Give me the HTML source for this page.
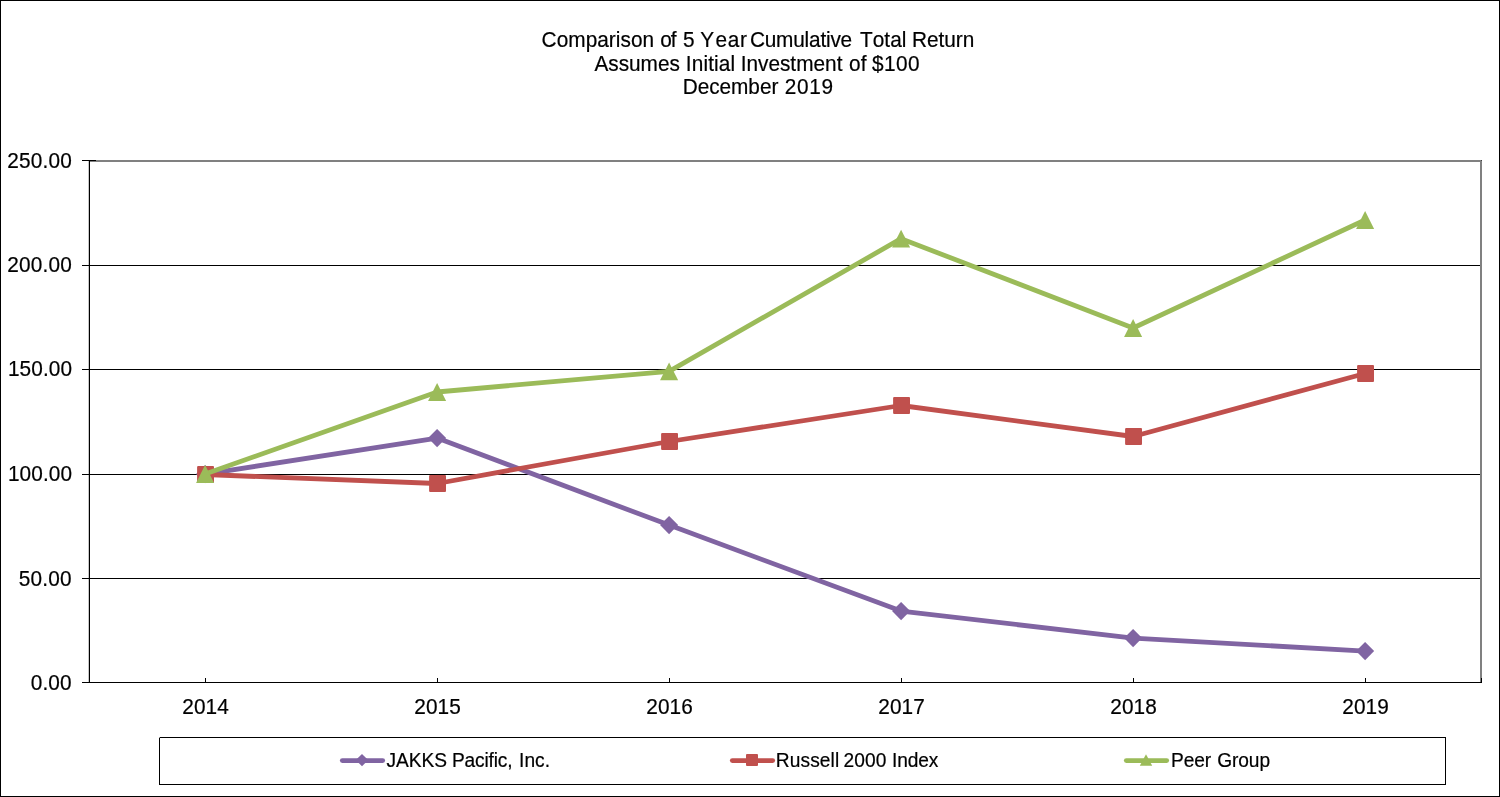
<!DOCTYPE html>
<html><head><meta charset="utf-8"><title>Comparison of 5 Year Cumulative Total Return</title>
<style>
html,body{margin:0;padding:0;background:#fff;}
body{width:1500px;height:797px;overflow:hidden;position:relative;}
svg{position:absolute;left:0;top:0;display:block;will-change:transform;}
text{font-family:"Liberation Sans",Arial,Helvetica,sans-serif;font-kerning:none;fill:#000;stroke:#000;stroke-width:0.2px;white-space:pre;}
.a{font-size:20.8px;}
.l{font-size:19.15px;}
</style></head><body>
<svg width="1500" height="797" viewBox="0 0 1500 797">
<g shape-rendering="crispEdges">
<rect x="0" y="0" width="1500" height="1" fill="#000"/>
<rect x="0" y="796" width="1500" height="1" fill="#000"/>
<rect x="0" y="0" width="1" height="797" fill="#000"/>
<rect x="1499" y="0" width="1" height="797" fill="#000"/>

<rect x="89" y="160" width="1393" height="2" fill="#808080"/>
<rect x="1480" y="160" width="2" height="522" fill="#808080"/>
<rect x="89" y="578" width="1391" height="1" fill="#000"/>
<rect x="89" y="474" width="1391" height="1" fill="#000"/>
<rect x="89" y="369" width="1391" height="1" fill="#000"/>
<rect x="89" y="265" width="1391" height="1" fill="#000"/>
<rect x="88" y="161" width="1" height="521" fill="#000" fill-opacity="0.22"/>
<rect x="89" y="160" width="1" height="523" fill="#000"/>
<rect x="89" y="682" width="1393" height="1" fill="#000"/>
<rect x="82" y="682" width="8" height="1" fill="#000"/>
<rect x="82" y="578" width="8" height="1" fill="#000"/>
<rect x="82" y="474" width="8" height="1" fill="#000"/>
<rect x="82" y="369" width="8" height="1" fill="#000"/>
<rect x="82" y="265" width="8" height="1" fill="#000"/>
<rect x="82" y="160" width="14" height="1" fill="#000"/>
<rect x="205" y="678" width="1" height="4" fill="#000"/>
<rect x="437" y="678" width="1" height="4" fill="#000"/>
<rect x="669" y="678" width="1" height="4" fill="#000"/>
<rect x="901" y="678" width="1" height="4" fill="#000"/>
<rect x="1133" y="678" width="1" height="4" fill="#000"/>
<rect x="1365" y="678" width="1" height="4" fill="#000"/>
<rect x="1481" y="678" width="1" height="4" fill="#000"/>
<rect x="1481" y="160" width="1" height="1" fill="#404040"/>
<rect x="159" y="737" width="1287" height="1" fill="#000"/><rect x="159" y="784" width="1287" height="1" fill="#000"/><rect x="159" y="737" width="1" height="48" fill="#000"/><rect x="1445" y="737" width="1" height="48" fill="#000"/>
</g>
<rect x="159" y="737" width="1" height="1" fill="#999" shape-rendering="crispEdges"/>
<polyline points="205.1,474.1 437.1,438.1 669.1,525.1 901.1,611.1 1133.1,638.1 1365.1,651.1" fill="none" stroke="#8064A2" stroke-width="4.8" stroke-linejoin="round" stroke-linecap="round"/>
<polygon points="205.1,465.05 214.15,474.1 205.1,483.15 196.05,474.1" fill="#8064A2"/>
<polygon points="437.1,429.05 446.15,438.1 437.1,447.15 428.05,438.1" fill="#8064A2"/>
<polygon points="669.1,516.05 678.15,525.1 669.1,534.15 660.05,525.1" fill="#8064A2"/>
<polygon points="901.1,602.05 910.15,611.1 901.1,620.15 892.05,611.1" fill="#8064A2"/>
<polygon points="1133.1,629.05 1142.15,638.1 1133.1,647.15 1124.05,638.1" fill="#8064A2"/>
<polygon points="1365.1,642.05 1374.15,651.1 1365.1,660.15 1356.05,651.1" fill="#8064A2"/>
<polyline points="205.1,474.5 437.1,483.5 669.1,441.5 901.1,405.5 1133.1,436.5 1365.1,373.5" fill="none" stroke="#C0504D" stroke-width="4.8" stroke-linejoin="round" stroke-linecap="round"/>
<rect x="197.10" y="466.05" width="16.90" height="16.90" rx="1" fill="#C0504D"/>
<rect x="429.10" y="475.05" width="16.90" height="16.90" rx="1" fill="#C0504D"/>
<rect x="661.10" y="433.05" width="16.90" height="16.90" rx="1" fill="#C0504D"/>
<rect x="893.10" y="397.05" width="16.90" height="16.90" rx="1" fill="#C0504D"/>
<rect x="1125.10" y="428.05" width="16.90" height="16.90" rx="1" fill="#C0504D"/>
<rect x="1357.10" y="365.05" width="16.90" height="16.90" rx="1" fill="#C0504D"/>
<polyline points="205.1,474.0 437.1,392.0 669.1,371.3 901.1,238.7 1133.1,328.0 1365.1,220.0" fill="none" stroke="#9BBB59" stroke-width="4.8" stroke-linejoin="round" stroke-linecap="round"/>
<polygon points="205.1,465.10 214.15,482.90 196.05,482.90" fill="#9BBB59"/>
<polygon points="437.1,383.10 446.15,400.90 428.05,400.90" fill="#9BBB59"/>
<polygon points="669.1,362.40 678.15,380.20 660.05,380.20" fill="#9BBB59"/>
<polygon points="901.1,229.80 910.15,247.60 892.05,247.60" fill="#9BBB59"/>
<polygon points="1133.1,319.10 1142.15,336.90 1124.05,336.90" fill="#9BBB59"/>
<polygon points="1365.1,211.10 1374.15,228.90 1356.05,228.90" fill="#9BBB59"/>
<line x1="342.3" y1="760.6" x2="382.7" y2="760.6" stroke="#8064A2" stroke-width="4.8" stroke-linecap="round"/>
<polygon points="362.0,753.90 368.20,760.1 362.0,766.30 355.80,760.1" fill="#8064A2"/>
<line x1="732.3" y1="760.6" x2="772.7" y2="760.6" stroke="#C0504D" stroke-width="4.8" stroke-linecap="round"/>
<rect x="746.00" y="754.00" width="12.00" height="12.00" rx="1" fill="#C0504D"/>
<line x1="1126.3" y1="760.6" x2="1166.7" y2="760.6" stroke="#9BBB59" stroke-width="4.8" stroke-linecap="round"/>
<polygon points="1146.0,754.20 1152.20,765.80 1139.80,765.80" fill="#9BBB59"/>
<text class="a" transform="translate(0,47) scale(1,1.04)"><tspan x="541.61" letter-spacing="0.037">Comparison</tspan> <tspan x="660.17" letter-spacing="-0.88">of</tspan> <tspan x="683.02" letter-spacing="0">5</tspan> <tspan x="700.36" letter-spacing="0">Y<tspan dx="1.37" letter-spacing="0.6">ear</tspan></tspan> <tspan x="749.91" letter-spacing="-0.195">Cumulative</tspan> <tspan x="860.00" letter-spacing="0.054">Total</tspan> <tspan x="912.09" letter-spacing="-0.047">Return</tspan></text>
<text class="a" transform="translate(0,71) scale(1,1.04)"><tspan x="594.48" letter-spacing="-0.024">Assumes</tspan> <tspan x="685.85" letter-spacing="0.12">Initial</tspan> <tspan x="740.65" letter-spacing="0.005">Investment</tspan> <tspan x="849.07" letter-spacing="0.22">of</tspan> <tspan x="872.11" letter-spacing="0.384">$100</tspan></text>
<text class="a" transform="translate(0,94) scale(1,1.04)"><tspan x="682.79" letter-spacing="-0.06">December</tspan> <tspan x="784.74" letter-spacing="0.682">2019</tspan></text>
<text class="a" transform="translate(7.24,168) scale(1,1.04)" letter-spacing="0.175">250.00</text>
<text class="a" transform="translate(7.24,272) scale(1,1.04)" letter-spacing="0.175">200.00</text>
<text class="a" transform="translate(7.90,376) scale(1,1.04)" letter-spacing="0.1">150.00</text>
<text class="a" transform="translate(7.90,480.6) scale(1,1.04)" letter-spacing="0.1">100.00</text>
<text class="a" transform="translate(18.72,585.5) scale(1,1.04)" letter-spacing="0.213">50.00</text>
<text class="a" transform="translate(30.81,690) scale(1,1.04)" letter-spacing="0.104">0.00</text>
<text class="a" transform="translate(182.20,714) scale(1,1.04)" letter-spacing="0.136">2014</text>
<text class="a" transform="translate(414.20,714) scale(1,1.04)" letter-spacing="0.136">2015</text>
<text class="a" transform="translate(646.20,714) scale(1,1.04)" letter-spacing="0.136">2016</text>
<text class="a" transform="translate(878.20,714) scale(1,1.04)" letter-spacing="0.136">2017</text>
<text class="a" transform="translate(1110.20,714) scale(1,1.04)" letter-spacing="0.136">2018</text>
<text class="a" transform="translate(1342.20,714) scale(1,1.04)" letter-spacing="0.136">2019</text>
<text class="l" transform="translate(0,766.7) scale(1,1.04)"><tspan x="386.42" letter-spacing="-0.022">JAKKS</tspan> <tspan x="452.00" letter-spacing="-0.15">Pacific,</tspan> <tspan x="519.04" letter-spacing="0.05">Inc.</tspan></text>
<text class="l" transform="translate(0,766.7) scale(1,1.04)"><tspan x="775.80" letter-spacing="0.109">Russell</tspan> <tspan x="843.52" letter-spacing="0.123">2000</tspan> <tspan x="892.04" letter-spacing="-0.155">Index</tspan></text>
<text class="l" transform="translate(0,766.7) scale(1,1.04)"><tspan x="1171.00" letter-spacing="-0.073">Peer</tspan> <tspan x="1217.31" letter-spacing="-0.107">Group</tspan></text>
</svg>
</body></html>
